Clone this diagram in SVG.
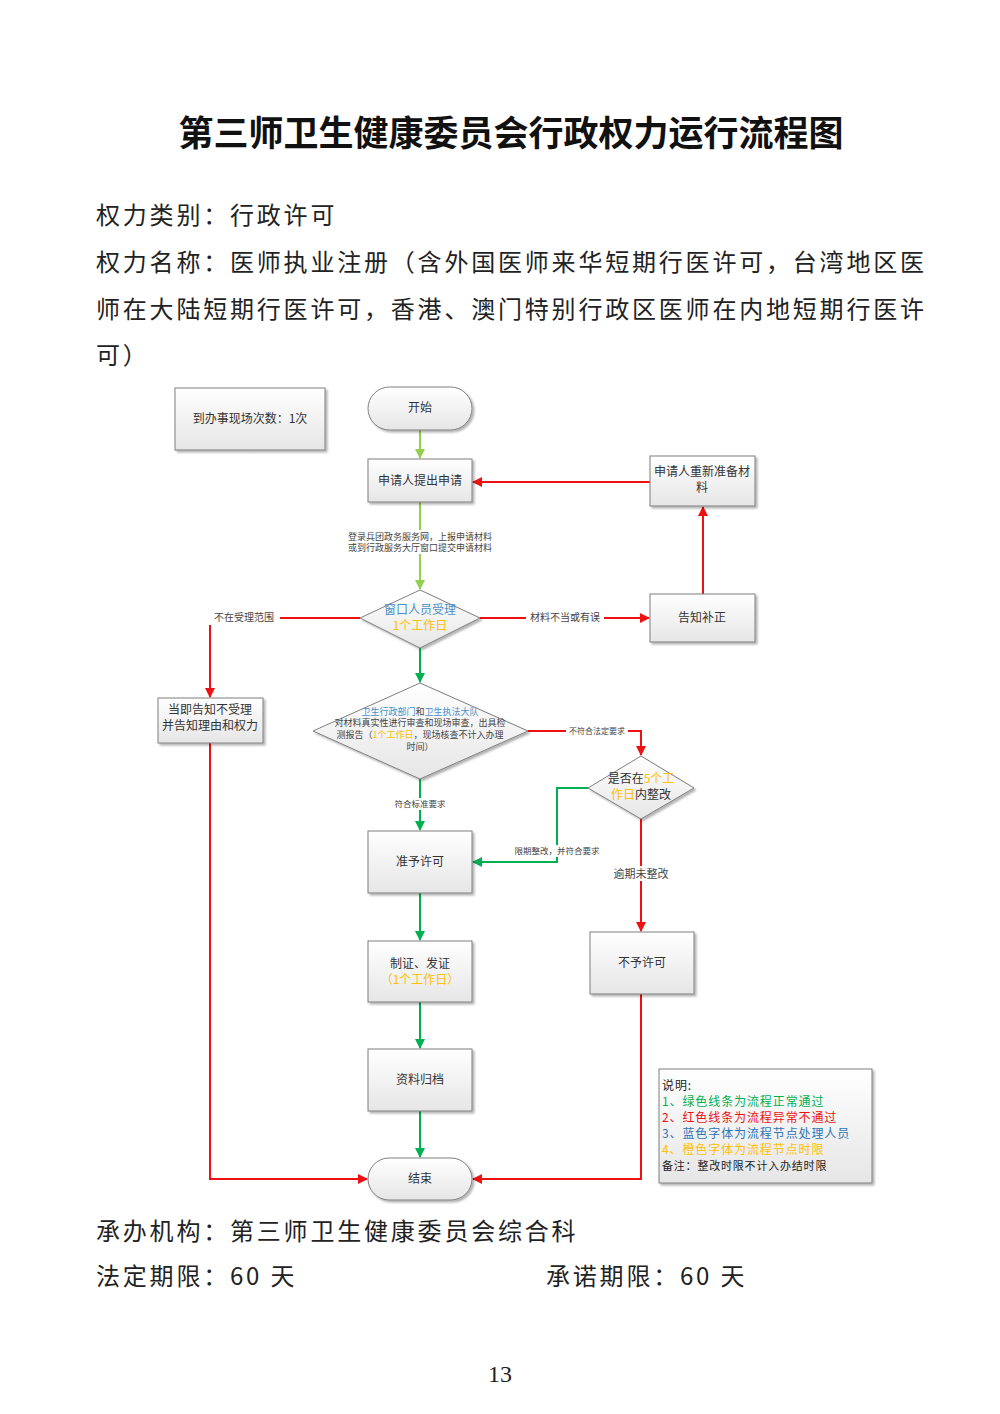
<svg xmlns="http://www.w3.org/2000/svg" width="1000" height="1414" viewBox="0 0 1000 1414">
<style>
.t{font-family:"Noto Sans CJK SC","Liberation Serif",serif;fill:#222}
.title{font-size:35px;font-weight:bold;fill:#111}
.body{font-size:24px;letter-spacing:2.8px;fill:#222}
.n{font-size:12px;text-anchor:middle;fill:#333}
.s{font-size:9px;text-anchor:middle;fill:#444}
.lg{font-size:12px;letter-spacing:0.9px}
.box{fill:url(#g);stroke:#7f7f7f;stroke-width:1;filter:url(#sh)}
.gl{stroke:#00B050;stroke-width:2;fill:none}
.lgl{stroke:#92D050;stroke-width:2;fill:none}
.rl{stroke:#EE1111;stroke-width:2;fill:none}
.blue{fill:#4A90C8}
.or{fill:#FFC000}
</style>
<defs>
<linearGradient id="g" x1="0" y1="0" x2="0" y2="1"><stop offset="0" stop-color="#ffffff"/><stop offset="1" stop-color="#e6e6e6"/></linearGradient>
<filter id="sh" x="-10%" y="-10%" width="130%" height="130%"><feDropShadow dx="2" dy="2" stdDeviation="1.2" flood-color="#000" flood-opacity="0.3"/></filter>
<marker id="ag" markerWidth="10" markerHeight="10" refX="9" refY="5" orient="auto" markerUnits="userSpaceOnUse"><path d="M0,0 L10,5 L0,10 z" fill="#00B050"/></marker>
<marker id="alg" markerWidth="10" markerHeight="10" refX="9" refY="5" orient="auto" markerUnits="userSpaceOnUse"><path d="M0,0 L10,5 L0,10 z" fill="#92D050"/></marker>
<marker id="ar" markerWidth="10" markerHeight="10" refX="9" refY="5" orient="auto" markerUnits="userSpaceOnUse"><path d="M0,0 L10,5 L0,10 z" fill="#EE1111"/></marker>
</defs>
<rect width="1000" height="1414" fill="#fff"/>
<text class="t title" x="511" y="146" text-anchor="middle">第三师卫生健康委员会行政权力运行流程图</text>
<text class="t body" x="96" y="224">权力类别：行政许可</text>
<text class="t body" x="96" y="271">权力名称：医师执业注册（含外国医师来华短期行医许可，台湾地区医</text>
<text class="t body" x="96" y="318">师在大陆短期行医许可，香港、澳门特别行政区医师在内地短期行医许</text>
<text class="t body" x="96" y="364">可）</text>

<g id="connectors">
<line class="lgl" x1="420" y1="430" x2="420" y2="458" marker-end="url(#alg)"/>
<line class="lgl" x1="420" y1="502" x2="420" y2="589" marker-end="url(#alg)"/>
<rect x="345" y="530" width="150" height="24" fill="#fff"/>
<text class="t s" x="420" y="540">登录兵团政务服务网，上报申请材料</text>
<text class="t s" x="420" y="551">或到行政服务大厅窗口提交申请材料</text>
<line class="rl" x1="480" y1="618" x2="649" y2="618" marker-end="url(#ar)"/>
<rect x="526" y="611" width="78" height="14" fill="#fff"/>
<text class="t s" x="565" y="621" style="font-size:10px">材料不当或有误</text>
<line class="rl" x1="703" y1="594" x2="703" y2="507" marker-end="url(#ar)"/>
<line class="rl" x1="650" y1="482" x2="473" y2="482" marker-end="url(#ar)"/>
<polyline class="rl" points="360,618 210,618 210,697" marker-end="url(#ar)"/>
<rect x="208" y="611" width="72" height="14" fill="#fff"/>
<text class="t s" x="244" y="621" style="font-size:10px">不在受理范围</text>
<line class="gl" x1="420" y1="648" x2="420" y2="682" marker-end="url(#ag)"/>
<polyline class="rl" points="528,731 641,731 641,755" marker-end="url(#ar)"/>
<rect x="566" y="725" width="62" height="12" fill="#fff"/>
<text class="t s" x="597" y="734" style="font-size:8px">不符合法定要求</text>
<line class="gl" x1="420" y1="779" x2="420" y2="830" marker-end="url(#ag)"/>
<rect x="390" y="798" width="60" height="12" fill="#fff"/>
<text class="t s" x="420" y="807" style="font-size:8.5px">符合标准要求</text>
<polyline class="gl" points="588,788 557,788 557,862 473,862" marker-end="url(#ag)"/>
<rect x="512" y="845" width="90" height="12" fill="#fff"/>
<text class="t s" x="557" y="854" style="font-size:8.5px">限期整改，并符合要求</text>
<line class="rl" x1="641" y1="819" x2="641" y2="931" marker-end="url(#ar)"/>
<rect x="610" y="866" width="62" height="15" fill="#fff"/>
<text class="t s" x="641" y="878" style="font-size:11px">逾期未整改</text>
<line class="gl" x1="420" y1="893" x2="420" y2="940" marker-end="url(#ag)"/>
<line class="gl" x1="420" y1="1002" x2="420" y2="1048" marker-end="url(#ag)"/>
<line class="gl" x1="420" y1="1111" x2="420" y2="1157" marker-end="url(#ag)"/>
<polyline class="rl" points="210,743 210,1179 367,1179" marker-end="url(#ar)"/>
<polyline class="rl" points="641,994 641,1179 473,1179" marker-end="url(#ar)"/>
</g>

<g id="n-visits"><rect class="box" x="175" y="388" width="150" height="62"/><text class="t n" x="250" y="423">到办事现场次数：1次</text></g>
<g id="n-start"><rect class="box" x="368" y="387" width="104" height="43" rx="21.5"/><text class="t n" x="420" y="412">开始</text></g>
<g id="n-apply"><rect class="box" x="368" y="459" width="104" height="43"/><text class="t n" x="420" y="485">申请人提出申请</text></g>
<g id="n-reprep"><rect class="box" x="650" y="456" width="105" height="50"/><text class="t n" x="702" y="476">申请人重新准备材</text><text class="t n" x="702" y="492">料</text></g>
<g id="n-window"><polygon class="box" points="420,590 480,618 420,648 360,618"/><text class="t n blue" x="420" y="614">窗口人员受理</text><text class="t n or" x="420" y="630">1个工作日</text></g>
<g id="n-notify"><rect class="box" x="650" y="594" width="105" height="48"/><text class="t n" x="702" y="622">告知补正</text></g>
<g id="n-reject"><rect class="box" x="158" y="698" width="105" height="45"/><text class="t n" x="210" y="714">当即告知不受理</text><text class="t n" x="210" y="730">并告知理由和权力</text></g>
<g id="n-review"><polygon class="box" points="420,683 528,731 420,779 313,731"/>
<text class="t s" x="420" y="715"><tspan class="blue">卫生行政部门</tspan>和<tspan class="blue">卫生执法大队</tspan></text>
<text class="t s" x="420" y="726">对材料真实性进行审查和现场审查，出具检</text>
<text class="t s" x="420" y="738">测报告（<tspan class="or">1个工作日</tspan>，现场核查不计入办理</text>
<text class="t s" x="420" y="750">时间）</text></g>
<g id="n-rectify"><polygon class="box" points="641,756 694,788 641,819 588,788"/><text class="t n" x="641" y="783">是否在<tspan class="or">5个工</tspan></text><text class="t n" x="641" y="799"><tspan class="or">作日</tspan>内整改</text></g>
<g id="n-approve"><rect class="box" x="368" y="831" width="104" height="62"/><text class="t n" x="420" y="866">准予许可</text></g>
<g id="n-deny"><rect class="box" x="590" y="932" width="104" height="62"/><text class="t n" x="642" y="967">不予许可</text></g>
<g id="n-issue"><rect class="box" x="368" y="941" width="104" height="61"/><text class="t n" x="420" y="968">制证、发证</text><text class="t n or" x="420" y="984">（1个工作日）</text></g>
<g id="n-archive"><rect class="box" x="368" y="1049" width="104" height="62"/><text class="t n" x="420" y="1084">资料归档</text></g>
<g id="n-end"><rect class="box" x="368" y="1158" width="104" height="42" rx="21"/><text class="t n" x="420" y="1183">结束</text></g>
<g id="n-legend"><rect class="box" x="659" y="1069" width="213" height="114"/>
<text class="t lg" x="662" y="1090" style="fill:#222">说明:</text>
<text class="t lg" x="662" y="1106" style="fill:#00B050">1、绿色线条为流程正常通过</text>
<text class="t lg" x="662" y="1122" style="fill:#EE1111">2、红色线条为流程异常不通过</text>
<text class="t lg" x="662" y="1138" style="fill:#2E75B6">3、蓝色字体为流程节点处理人员</text>
<text class="t lg" x="662" y="1154" style="fill:#FFC000">4、橙色字体为流程节点时限</text>
<text class="t lg" x="662" y="1170" style="fill:#222;font-size:11px;letter-spacing:0.8px">备注：整改时限不计入办结时限</text></g>

<text class="t body" x="96" y="1240">承办机构：第三师卫生健康委员会综合科</text>
<text class="t body" x="96" y="1285">法定期限：60 天</text>
<text class="t body" x="546" y="1285">承诺期限：60 天</text>
<text class="t" x="500" y="1382" text-anchor="middle" style="font-size:24px;font-family:'Liberation Serif',serif">13</text>
</svg>
